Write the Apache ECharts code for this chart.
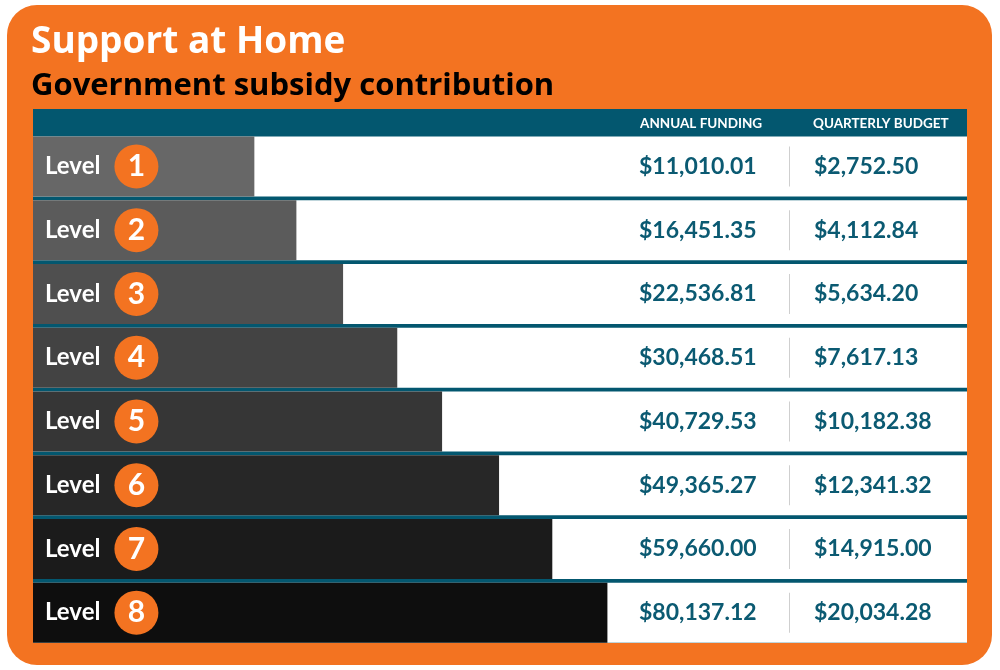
<!DOCTYPE html>
<html>
<head>
<meta charset="utf-8">
<script src="https://cdn.jsdelivr.net/npm/echarts@6/dist/echarts.min.js"></script>
<style>
  html, body { margin: 0; padding: 0; background: #fff; }
  #chart { width: 1000px; height: 670px; }
</style>
</head>
<body>
<div id="chart"></div>
<script>
// Support levels, top to bottom
var levels = ['1', '2', '3', '4', '5', '6', '7', '8'];
// Government subsidy per level (AUD)
var annualFunding = [11010.01, 16451.35, 22536.81, 30468.51, 40729.53, 49365.27, 59660.00, 80137.12];
var quarterlyBudget = [2752.50, 4112.84, 5634.20, 7617.13, 10182.38, 12341.32, 14915.00, 20034.28];
// Length of each grey bar as a share (%) of the row
var barShare = [23.7, 28.2, 33.2, 39.0, 43.8, 49.9, 55.6, 61.5];
var barColors = ['#676767', '#5b5b5b', '#4f4f4f', '#434343', '#363636', '#272727', '#1b1b1b', '#0e0e0e'];
var columnTitles = ['ANNUAL FUNDING', 'QUARTERLY BUDGET'];

var ORANGE = '#f37321';
var TEAL = '#03576f';
var VALUE = '#0b5a72';
var FONT = 'Lato';
var TITLE_FONT = '"Open Sans"';

function money(v) {
    return '$' + v.toLocaleString('en-US', { minimumFractionDigits: 2, maximumFractionDigits: 2 });
}

var chart = echarts.init(document.getElementById('chart'), null, { renderer: 'canvas' });

var valueText = { fontSize: 23, fontWeight: 'bold', color: VALUE, fontFamily: FONT, align: 'left' };

chart.setOption({
    animation: false,
    backgroundColor: '#fff',
    title: {
        text: 'Support at Home',
        subtext: 'Government subsidy contribution',
        left: 31,
        top: 24,
        padding: 0,
        itemGap: 10,
        textStyle: { color: '#fff', fontSize: 37, fontWeight: 'bold', fontFamily: TITLE_FONT },
        subtextStyle: { color: '#000', fontSize: 31, fontWeight: 'bold', fontFamily: TITLE_FONT }
    },
    graphic: [
        { type: 'rect', z: -10, shape: { x: 7, y: 5, width: 985, height: 660, r: 30 }, style: { fill: ORANGE } },
        // teal table frame: header band plus the lines between rows
        { type: 'rect', z: -9, shape: { x: 33, y: 109, width: 934, height: 534 }, style: { fill: TEAL } },
        { type: 'text', z: 100, x: 640, y: 124,
          style: { text: columnTitles[0], fill: '#fff', font: 'bold 13.5px ' + FONT, verticalAlign: 'middle' } },
        { type: 'text', z: 100, x: 813, y: 124,
          style: { text: columnTitles[1], fill: '#fff', font: 'bold 13.5px ' + FONT, verticalAlign: 'middle' } }
    ],
    grid: { left: 33, right: 33, top: 134.5, height: 510 },
    xAxis: { type: 'value', min: 0, max: 100, show: false },
    yAxis: [
        { type: 'category', data: levels, inverse: true, show: false },
        {
            type: 'category', data: levels, inverse: true, position: 'right', z: 10,
            axisLine: { show: false }, axisTick: { show: false },
            axisLabel: {
                inside: true, margin: 0, interval: 0,
                formatter: function (v, i) {
                    return '{a|' + money(annualFunding[i]) + '}{d| }{s| }{q|' + money(quarterlyBudget[i]) + '}';
                },
                rich: {
                    a: Object.assign({ width: 150 }, valueText),
                    d: { width: 1, height: 40, backgroundColor: '#cfcfcf', align: 'left' },
                    s: { width: 24, align: 'left' },
                    q: Object.assign({ width: 153 }, valueText)
                }
            }
        }
    ],
    series: [{
        type: 'bar',
        barWidth: 60,
        showBackground: true,
        backgroundStyle: { color: '#fff' },
        data: barShare.map(function (v, i) {
            return { value: v, itemStyle: { color: barColors[i] } };
        }),
        label: {
            show: true,
            position: 'insideLeft',
            distance: 12,
            formatter: function (p) {
                return '{lv|Level}{num|' + levels[p.dataIndex] + '}';
            },
            rich: {
                lv: { color: '#fff', fontSize: 24, fontWeight: 'bold', fontFamily: FONT, padding: [0, 14, 0, 0] },
                num: {
                    width: 44, height: 44, lineHeight: 44, borderRadius: 22,
                    backgroundColor: ORANGE, color: '#fff', align: 'center',
                    fontSize: 30, fontWeight: 'bold', fontFamily: FONT
                }
            }
        }
    }]
});
</script>
</body>
</html>
